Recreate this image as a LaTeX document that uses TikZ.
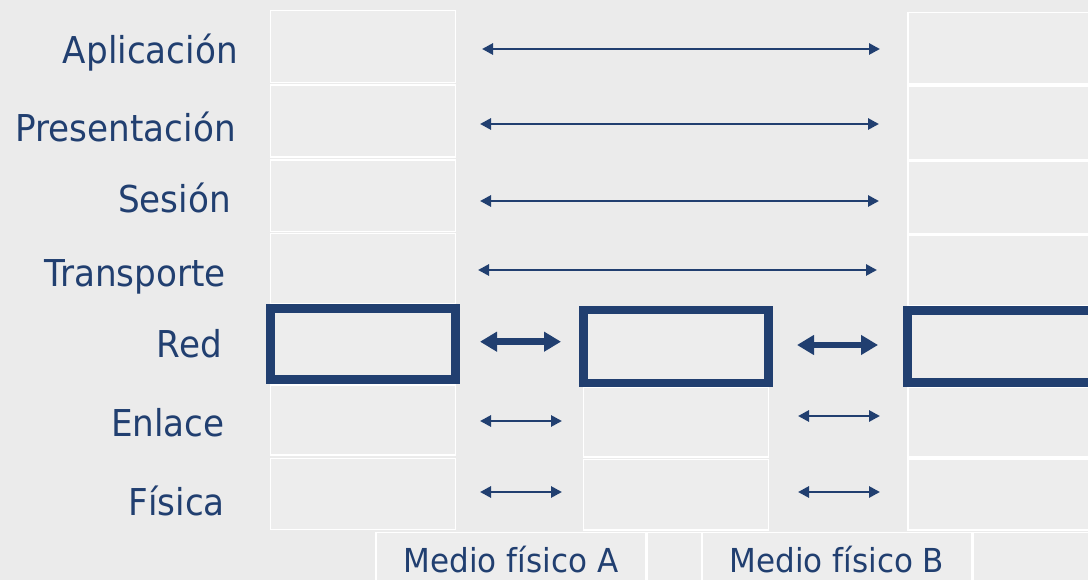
\documentclass[tikz,border=0pt]{standalone}
\usepackage{graphicx}
\usepackage{fontspec}
\setmainfont{DejaVu Sans}
\usetikzlibrary{arrows.meta}
\definecolor{navy}{RGB}{33,63,112}
\definecolor{bg}{RGB}{235,235,235}
\definecolor{cellfill}{RGB}{237,237,237}
% slightly narrowed lettering
\newcommand{\narrowtext}[2]{\scalebox{#1}[1]{#2}}
\tikzset{
  x=1pt, y=-1pt,
  cell/.style={draw=white, line width=1.8pt, fill=cellfill, rectangle, inner sep=0pt},
  redcell/.style={draw=navy, line width=8.5pt, fill=cellfill, rectangle, inner sep=0pt},
  layer/.style={text=navy, font=\fontsize{37}{42}\selectfont, anchor=base east, inner sep=0pt},
  medium/.style={text=navy, font=\fontsize{33}{38}\selectfont, anchor=base, inner sep=0pt},
  thinarrow/.style={draw=navy, line width=2.8pt,
    {Triangle[length=11pt,width=11pt]}-{Triangle[length=11pt,width=11pt]}},
  thickarrow/.style={draw=navy, line width=6.5pt,
    {Triangle[length=17pt,width=19pt]}-{Triangle[length=17pt,width=19pt]}}
}
\begin{document}
\begin{tikzpicture}
% canvas
\fill[bg] (0,0) rectangle (1088,580);
\useasboundingbox (0,0) rectangle (1088,580);

% layer names
\node[layer] (lapp) at (238,64)  {\narrowtext{0.925}{Aplicación}};
\node[layer] (lpre) at (236,142) {\narrowtext{0.925}{Presentación}};
\node[layer] (lses) at (231,213) {\narrowtext{0.925}{Sesión}};
\node[layer] (ltra) at (226,287) {\narrowtext{0.925}{Transporte}};
\node[layer] (lred) at (222,358) {\narrowtext{0.925}{Red}};
\node[layer] (lenl) at (225,436) {\narrowtext{0.925}{Enlace}};
\node[layer] (lfis) at (225,515) {\narrowtext{0.925}{Física}};

% left host stack
\node[cell, minimum width=185pt, minimum height=72pt]   (h1a) at (363,46.5) {};
\node[cell, minimum width=185pt, minimum height=72pt]   (h1p) at (363,121) {};
\node[cell, minimum width=185pt, minimum height=71.5pt] (h1s) at (363,195.7) {};
\node[cell, minimum width=185pt, minimum height=70.5pt] (h1t) at (363,268.8) {};
\node[cell, minimum width=185pt, minimum height=70pt]   (h1e) at (363,420) {};
\node[cell, minimum width=185pt, minimum height=71pt]   (h1f) at (363,494) {};

% router stack
\node[cell, minimum width=185pt, minimum height=69.5pt] (rte) at (676,422.3) {};
\node[cell, minimum width=185pt, minimum height=70.5pt] (rtf) at (676,494.8) {};

% right host stack
\node[cell, minimum width=186pt, minimum height=71.5pt] (h2a) at (1001,48.3) {};
\node[cell, minimum width=186pt, minimum height=73.5pt] (h2p) at (1001,122.8) {};
\node[cell, minimum width=186pt, minimum height=72.5pt] (h2s) at (1001,197.3) {};
\node[cell, minimum width=186pt, minimum height=71pt]   (h2t) at (1001,270.5) {};
\node[cell, minimum width=186pt, minimum height=69.5pt] (h2e) at (1001,422.3) {};
\node[cell, minimum width=186pt, minimum height=71pt]   (h2f) at (1001,494.5) {};

% network layer, highlighted
\node[redcell, minimum width=185.4pt, minimum height=71.4pt] (h1r) at (363,344) {};
\node[redcell, minimum width=185.4pt, minimum height=73pt]   (rtr) at (676,346.5) {};
\node[redcell, minimum width=186pt, minimum height=72.4pt]   (h2r) at (1000.5,346.5) {};

% physical media
\node[cell, minimum width=270pt, minimum height=62pt] (ma) at (511,563.5) {};
\node[cell, minimum width=55pt,  minimum height=62pt] (mg) at (674.5,563.5) {};
\node[cell, minimum width=270pt, minimum height=62pt] (mb) at (837,563.5) {};
\node[cell, minimum width=122pt, minimum height=62pt] (mr) at (1034,563.5) {};
\node[medium] (tma) at (511,572) {\narrowtext{0.94}{Medio físico A}};
\node[medium] (tmb) at (837,572) {\narrowtext{0.94}{Medio físico B}};

% peer-to-peer links, end-to-end layers
\coordinate (a1) at (482,49);  \coordinate (a2) at (880,49);
\coordinate (p1) at (480,124); \coordinate (p2) at (879,124);
\coordinate (s1) at (480,201); \coordinate (s2) at (879,201);
\coordinate (t1) at (478,270); \coordinate (t2) at (877,270);
\draw[thinarrow] (a1) -- (a2);
\draw[thinarrow] (p1) -- (p2);
\draw[thinarrow] (s1) -- (s2);
\draw[thinarrow] (t1) -- (t2);

% network layer, hop by hop
\coordinate (r1) at (480,341.7); \coordinate (r2) at (561,341.7);
\coordinate (r3) at (797,345);   \coordinate (r4) at (878,345);
\draw[thickarrow] (r1) -- (r2);
\draw[thickarrow] (r3) -- (r4);

% link and physical layers, hop by hop
\coordinate (e1) at (480,421); \coordinate (e2) at (562,421);
\coordinate (e3) at (798,416); \coordinate (e4) at (880,416);
\coordinate (f1) at (480,492); \coordinate (f2) at (562,492);
\coordinate (f3) at (798,492); \coordinate (f4) at (880,492);
\draw[thinarrow] (e1) -- (e2);
\draw[thinarrow] (e3) -- (e4);
\draw[thinarrow] (f1) -- (f2);
\draw[thinarrow] (f3) -- (f4);
\end{tikzpicture}
\end{document}
